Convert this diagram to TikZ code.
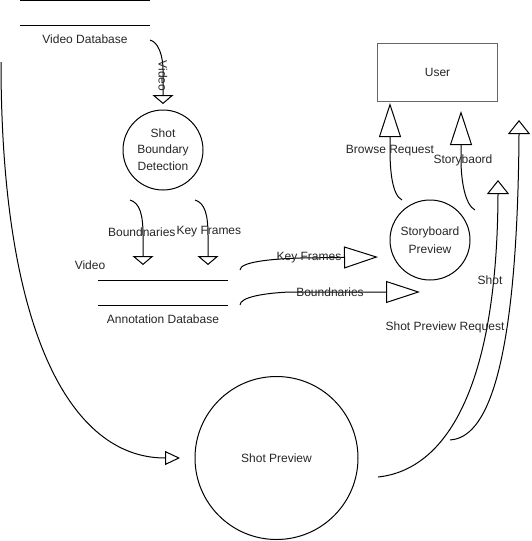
\documentclass[tikz,border=0pt]{standalone}
\usepackage{fontspec}
\setmainfont{Liberation Sans}
\usetikzlibrary{arrows.meta, positioning}

\begin{document}
\begin{tikzpicture}[x=1pt,y=-1pt,line width=1pt,
    every node/.style={font=\fontsize{12}{17.5}\selectfont, text=black!85},
    process/.style={circle,draw,inner sep=0pt,align=center},
    lbl/.style={inner sep=0pt},
    down/.style={-{Triangle[open,length=9pt,width=21pt]}},
    long/.style={-{Triangle[open,length=34pt,width=22pt]}},
    short/.style={-{Triangle[open,length=14pt,width=22pt]}},
    slim/.style={-{Triangle[open,length=15pt,width=14pt]}}]
			\useasboundingbox (0,0) rectangle (532,541);
			% stores
			\node[lbl] (vdb) at (85,39)  {Video Database};
			\node[lbl] (adb) at (163,319) {Annotation Database};
			\draw (20,0) -- (150,0) (20,25) -- (150,25);
			\draw (98,280) -- (228,280) (98,305) -- (228,305);
			% processes and user
			\node[process, minimum size=80pt]  (sbd) at (163,150)   {\raisebox{-4pt}{\shortstack{Shot\\[3.5pt]Boundary\\[3.5pt]Detection}}};
			\node[process, minimum size=80pt]  (sbp) at (430,240)   {Storyboard\\Preview};
			\node[process, minimum size=163pt] (sp)  at (276.5,458) {Shot Preview};
			\node[draw=black!60, line width=1.5pt, minimum width=120pt, minimum height=58pt] (user) at (437.5,72.5) {User};
			% free ends
			\coordinate (v0) at (150,40);   \coordinate (v1) at (163,104);
			\coordinate (b0) at (130,200);  \coordinate (b1) at (143,265);
			\coordinate (k0) at (195,200);  \coordinate (k1) at (208,265);
			\coordinate (k2) at (240,270);  \coordinate (k3) at (378,257);
			\coordinate (b2) at (240,305);  \coordinate (b3) at (420,292);
			\coordinate (r0) at (402,200);  \coordinate (r1) at (390,103);
			\coordinate (s0) at (475,210);  \coordinate (s1) at (461,111);
			\coordinate (h0) at (378,477);  \coordinate (h1) at (498,180);
			\coordinate (q0) at (450,440);  \coordinate (q1) at (519,120);
			\coordinate (l0) at (1,62);     \coordinate (l1) at (180,458);
			% flows
			\draw[down]  (v0) .. controls (158,42) and (163,55) .. (163,70) -- (v1);
			\draw[down]  (b0) .. controls (140,203) and (143,215) .. (143,235) -- (b1);
			\draw[down]  (k0) .. controls (205,203) and (208,215) .. (208,235) -- (k1);
			\draw[long]  (k2) .. controls (240,262) and (270,259) .. (300,258) -- (k3);
			\draw[long]  (b2) .. controls (240,297) and (265,293) .. (290,292) -- (b3);
			\draw[long]  (r0) .. controls (392,195) and (390,170) .. (390,150) -- (r1);
			\draw[long]  (s0) .. controls (465,205) and (461,180) .. (461,160) -- (s1);
			\draw[short] (h0) .. controls (445,470) and (497,390) .. (498,195) -- (h1);
			\draw[short] (q0) .. controls (478,438) and (517,400) .. (519,135) -- (q1);
			\draw[slim]  (l0) .. controls (1,330) and (70,458) .. (165,458) -- (l1);
			% flow labels
			\node[lbl, rotate=-90] (lv)  at (163,76)  {Video};
			\node[lbl, anchor=east] (lb)  at (176,232) {Boundnaries};
			\node[lbl, anchor=west] (lk)  at (176,232) {Key Frames};
			\node[lbl] (lv2) at (90,265)  {Video};
			\node[lbl] (lk2) at (309,258) {Key Frames};
			\node[lbl] (lb2) at (330,292) {Boundnaries};
			\node[lbl] (lr)  at (390,151) {Browse Request};
			\node[lbl] (ls)  at (463,160) {Storybaord};
			\node[lbl] (lh)  at (490,280) {Shot};
			\node[lbl] (lq)  at (445,327) {Shot Preview Request};
		\end{tikzpicture}
\end{document}
